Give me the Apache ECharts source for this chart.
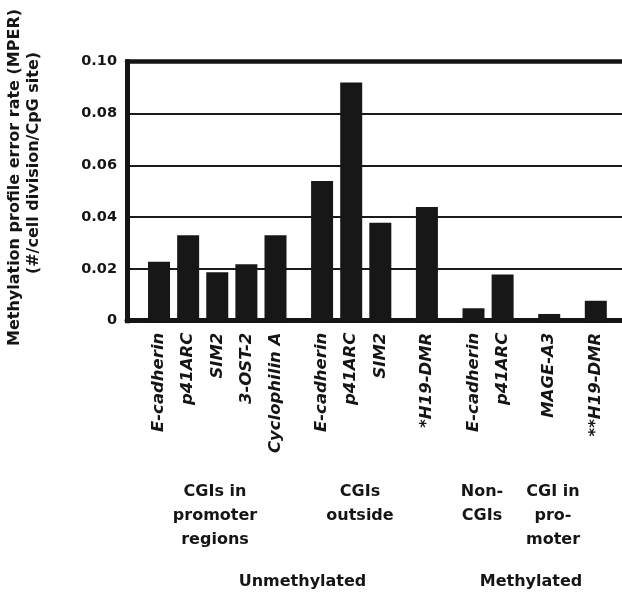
<!DOCTYPE html>
<html>
<head>
<meta charset="utf-8">
<script src="https://cdn.jsdelivr.net/npm/echarts@6/dist/echarts.min.js"></script>
<style>
  html, body { margin: 0; padding: 0; background: #fff; }
  #chart { width: 622px; height: 594px; }
</style>
</head>
<body>
<div id="chart"></div>
<script>
// Gene / region names, one per bar, grouped by CGI class
const groupCGIsInPromoter = ['E-cadherin', 'p41ARC', 'SIM2', '3-OST-2', 'Cyclophilin A'];
const groupCGIsOutside    = ['E-cadherin', 'p41ARC', 'SIM2'];
const groupImprinted      = ['*H19-DMR'];
const groupNonCGIs        = ['E-cadherin', 'p41ARC'];
const groupCGIInPromoter  = ['MAGE-A3'];
const groupImprintedMeth  = ['**H19-DMR'];

// Methylation profile error rate per bar (#/cell division/CpG site)
const valCGIsInPromoter = [0.0228, 0.033, 0.0187, 0.0218, 0.033];
const valCGIsOutside    = [0.0539, 0.092, 0.0378];
const valImprinted      = [0.0439];
const valNonCGIs        = [0.0048, 0.0178];
const valCGIInPromoter  = [0.0026];
const valImprintedMeth  = [0.0077];

const yTicks = [0, 0.02, 0.04, 0.06, 0.08, 0.10];

const groups = [
  [groupCGIsInPromoter, valCGIsInPromoter],
  [groupCGIsOutside, valCGIsOutside],
  [groupImprinted, valImprinted],
  [groupNonCGIs, valNonCGIs],
  [groupCGIInPromoter, valCGIInPromoter],
  [groupImprintedMeth, valImprintedMeth]
];

// Build a fine category axis: bars sit every STEP slots inside a group,
// and GAP slots apart between groups, with blank slots as padding.
const LEAD = 5, STEP = 5, GAP = 8, TRAIL = 4;
const slotKeys = [];
const slotLabels = [];
const slotValues = [];
function pushBlank(n) {
  for (let i = 0; i < n; i++) {
    slotKeys.push('s' + slotKeys.length);
    slotLabels.push('');
    slotValues.push('-');
  }
}
pushBlank(LEAD);
groups.forEach(([names, vals], gi) => {
  names.forEach((name, j) => {
    if (gi > 0 || j > 0) pushBlank((j === 0 ? GAP : STEP) - 1);
    slotKeys.push('s' + slotKeys.length);
    slotLabels.push(name);
    slotValues.push(vals[j]);
  });
});
pushBlank(TRAIL);

const FONT = '"DejaVu Sans", "Open Sans", sans-serif';
const INK = '#151515';

const chart = echarts.init(document.getElementById('chart'), null, { renderer: 'canvas' });

chart.setOption({
  animation: false,
  backgroundColor: '#fff',
  grid: { left: 127, right: 0, top: 61.7, bottom: 273.3, containLabel: false },
  xAxis: [
    {
      type: 'category',
      data: slotKeys,
      position: 'bottom',
      boundaryGap: true,
      axisLine: { show: true, lineStyle: { color: INK, width: 5 } },
      axisTick: { show: false },
      splitLine: { show: false },
      axisLabel: {
        interval: 0,
        rotate: 90,
        margin: 12,
        color: INK,
        fontFamily: FONT,
        fontSize: 16.5,
        fontWeight: 'bold',
        fontStyle: 'italic',
        formatter: (v, i) => slotLabels[i]
      }
    },
    {
      type: 'category',
      data: slotKeys,
      position: 'top',
      axisLine: { show: true, lineStyle: { color: INK, width: 4.5 } },
      axisTick: { show: false },
      axisLabel: { show: false },
      splitLine: { show: false }
    }
  ],
  yAxis: {
    type: 'value',
    min: yTicks[0],
    max: yTicks[yTicks.length - 1],
    interval: 0.02,
    axisLine: { show: true, lineStyle: { color: INK, width: 5, cap: 'square' } },
    axisTick: { show: false },
    splitLine: { show: true, lineStyle: { color: '#1a1a1a', width: 2 } },
    axisLabel: {
      margin: 10,
      color: INK,
      fontFamily: FONT,
      fontSize: 14.5,
      fontWeight: 'bold',
      formatter: v => (v === 0 ? '0' : v.toFixed(2))
    }
  },
  series: [
    {
      type: 'bar',
      xAxisIndex: 0,
      data: slotValues,
      barWidth: 22,
      itemStyle: { color: '#171717' },
      z: 3
    }
  ],
  graphic: [
    {
      type: 'text', x: 14.5, y: 177.5, rotation: Math.PI / 2,
      style: {
        text: 'Methylation profile error rate (MPER)',
        fill: INK, font: 'bold 16px ' + FONT,
        textAlign: 'center', textVerticalAlign: 'middle'
      }
    },
    {
      type: 'text', x: 34, y: 163, rotation: Math.PI / 2,
      style: {
        text: '(#/cell division/CpG site)',
        fill: INK, font: 'bold 16px ' + FONT,
        textAlign: 'center', textVerticalAlign: 'middle'
      }
    },
    {
      type: 'text', x: 215, y: 480,
      style: {
        text: 'CGIs in\npromoter\nregions', fill: INK, font: 'bold 16px ' + FONT,
        lineHeight: 24, textAlign: 'center', textVerticalAlign: 'top'
      }
    },
    {
      type: 'text', x: 360, y: 480,
      style: {
        text: 'CGIs\noutside', fill: INK, font: 'bold 16px ' + FONT,
        lineHeight: 24, textAlign: 'center', textVerticalAlign: 'top'
      }
    },
    {
      type: 'text', x: 482, y: 480,
      style: {
        text: 'Non-\nCGIs', fill: INK, font: 'bold 16px ' + FONT,
        lineHeight: 24, textAlign: 'center', textVerticalAlign: 'top'
      }
    },
    {
      type: 'text', x: 553, y: 480,
      style: {
        text: 'CGI in\npro-\nmoter', fill: INK, font: 'bold 16px ' + FONT,
        lineHeight: 24, textAlign: 'center', textVerticalAlign: 'top'
      }
    },
    {
      type: 'text', x: 302.5, y: 582,
      style: {
        text: 'Unmethylated', fill: INK, font: 'bold 16px ' + FONT,
        textAlign: 'center', textVerticalAlign: 'middle'
      }
    },
    {
      type: 'text', x: 531, y: 582,
      style: {
        text: 'Methylated', fill: INK, font: 'bold 16px ' + FONT,
        textAlign: 'center', textVerticalAlign: 'middle'
      }
    }
  ]
});
</script>
</body>
</html>
